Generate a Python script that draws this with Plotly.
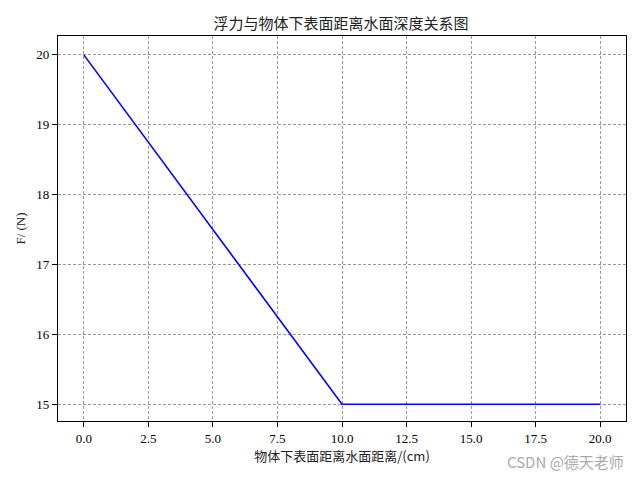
import plotly.graph_objects as go

# depth of the lower surface below water (cm) and buoyant force readings (N)
depth = [0, 10, 20]
force = [20, 15, 15]

x_ticks = [0, 2.5, 5, 7.5, 10, 12.5, 15, 17.5, 20]
y_ticks = [15, 16, 17, 18, 19, 20]

CJK = "Noto Sans CJK SC"
TICK_FONT = "Liberation Serif"

fig = go.Figure()
fig.add_trace(go.Scatter(x=depth, y=force, mode="lines",
                         line={"color": "blue", "width": 1.6}, showlegend=False))

axis_common = dict(
    showline=True, linecolor="black", linewidth=1.2, mirror=True,
    ticks="outside", ticklen=5, tickwidth=1, tickcolor="black",
    showgrid=True, gridcolor="#999999", griddash="3px,2px", gridwidth=0.6,
    zeroline=False, automargin=False,
    tickfont={"family": TICK_FONT, "size": 13, "color": "black"},
)

fig.update_xaxes(range=[-1, 21], tickvals=x_ticks,
                 ticktext=[f"{v:.1f}" for v in x_ticks],
                 title={"text": "物体下表面距离水面距离/(cm)", "standoff": 6,
                        "font": {"family": CJK, "size": 13, "color": "#222"}},
                 **axis_common)
fig.update_yaxes(range=[14.76, 20.27], tickvals=y_ticks,
                 title={"text": "F/ (N)", "standoff": 7,
                        "font": {"family": TICK_FONT, "size": 13, "color": "#222"}},
                 **axis_common)

# the page body adds an 8px offset, so the figure is sized to fit what is left
fig.update_layout(
    width=632, height=472,
    margin={"l": 50, "r": 14, "t": 28, "b": 59},
    plot_bgcolor="white", paper_bgcolor="white",
    title={"text": "浮力与物体下表面距离水面深度关系图", "x": 0.527, "xanchor": "center",
           "y": 0.966, "yanchor": "middle",
           "font": {"family": CJK, "size": 15, "color": "#222"}},
)

fig.add_annotation(text="CSDN @德天老师", xref="paper", yref="paper",
                   x=1.0, y=-0.104, xanchor="right", yanchor="middle",
                   showarrow=False,
                   font={"family": CJK, "size": 15, "color": "#aaaaaa"})

fig.write_html("out.html")
